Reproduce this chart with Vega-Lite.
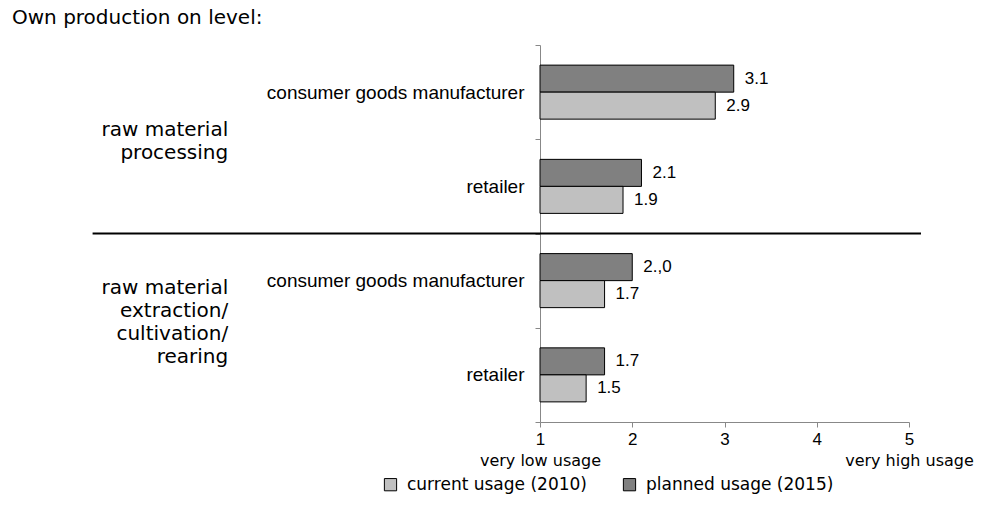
{
  "$schema": "https://vega.github.io/schema/vega-lite/v6.json",
  "width": 369,
  "height": 377,
  "autosize": "none",
  "padding": {"left": 540, "top": 45, "right": 86, "bottom": 93},
  "background": "white",
  "title": {
    "text": "Own production on level:",
    "anchor": "start",
    "frame": "group",
    "dx": -528,
    "offset": 8,
    "font": "DejaVu Sans",
    "fontSize": 20,
    "fontWeight": "normal",
    "color": "#000"
  },
  "config": {"view": {"stroke": null}},
  "datasets": {
    "bars": [
      {"key": "p_cgm", "series": "planned usage (2015)", "value": 3.1, "label": "3.1"},
      {"key": "p_cgm", "series": "current usage (2010)", "value": 2.9, "label": "2.9"},
      {"key": "p_ret", "series": "planned usage (2015)", "value": 2.1, "label": "2.1"},
      {"key": "p_ret", "series": "current usage (2010)", "value": 1.9, "label": "1.9"},
      {"key": "e_cgm", "series": "planned usage (2015)", "value": 2.0, "label": "2.,0"},
      {"key": "e_cgm", "series": "current usage (2010)", "value": 1.7, "label": "1.7"},
      {"key": "e_ret", "series": "planned usage (2015)", "value": 1.7, "label": "1.7"},
      {"key": "e_ret", "series": "current usage (2010)", "value": 1.5, "label": "1.5"}
    ],
    "group1": [
      {"key": "p_cgm", "pos": -2.38, "lines": ["raw material", "processing"]}
    ],
    "group2": [
      {"key": "e_cgm", "pos": -2.38, "lines": ["raw material", "extraction/", "cultivation/", "rearing"]}
    ],
    "sep": [
      {"key": "e_cgm", "from": -3.85, "to": 5.13}
    ]
  },
  "resolve": {"axis": {"x": "independent"}},
  "layer": [
    {
      "data": {"name": "bars"},
      "encoding": {
        "y": {
          "field": "key",
          "type": "nominal",
          "scale": {"domain": ["p_cgm", "p_ret", "e_cgm", "e_ret"], "paddingInner": 0, "paddingOuter": 0},
          "axis": {
            "orient": "left",
            "title": null,
            "labelExpr": "datum.value == 'p_cgm' || datum.value == 'e_cgm' ? 'consumer goods manufacturer' : (datum.value == 'p_ret' || datum.value == 'e_ret' ? 'retailer' : '')",
            "labelFont": "Liberation Sans",
            "labelFontSize": 19,
            "labelColor": "#000",
            "labelLimit": 400,
            "labelPadding": 11,
            "tickBand": "extent",
            "tickSize": 5,
            "tickColor": "#888",
            "domainColor": "#888",
            "grid": false
          }
        },
        "x": {
          "field": "value",
          "type": "quantitative",
          "scale": {"domain": [1, 5], "nice": false, "zero": false},
          "axis": {
            "orient": "bottom",
            "title": null,
            "values": [1, 2, 3, 4, 5],
            "format": "d",
            "labelFont": "Liberation Sans",
            "labelFontSize": 17,
            "labelColor": "#000",
            "labelPadding": 4,
            "labelFlush": false,
            "tickSize": 5,
            "tickColor": "#888",
            "domainColor": "#888",
            "grid": false
          }
        },
        "yOffset": {
          "field": "series",
          "type": "nominal",
          "scale": {"domain": ["planned usage (2015)", "current usage (2010)"], "paddingInner": 0, "paddingOuter": 0.745}
        }
      },
      "layer": [
        {
          "mark": {"type": "bar", "stroke": "#000", "strokeWidth": 1},
          "encoding": {
            "x2": {"datum": 1},
            "color": {
              "field": "series",
              "type": "nominal",
              "scale": {"domain": ["current usage (2010)", "planned usage (2015)"], "range": ["#c0c0c0", "#808080"]},
              "legend": {
                "title": null,
                "orient": "none",
                "direction": "horizontal",
                "legendX": -158,
                "legendY": 431,
                "symbolType": "square",
                "symbolSize": 150,
                "symbolStrokeColor": "#000",
                "symbolStrokeWidth": 1,
                "symbolOpacity": 1,
                "labelFont": "DejaVu Sans",
                "labelFontSize": 17,
                "labelColor": "#000",
                "labelOffset": 8,
                "columnPadding": 34,
                "labelLimit": 400
              }
            }
          }
        },
        {
          "mark": {"type": "text", "align": "left", "baseline": "middle", "dx": 11, "font": "Liberation Sans", "fontSize": 17, "color": "#000"},
          "encoding": {
            "text": {"field": "label", "type": "nominal"}
          }
        }
      ]
    },
    {
      "data": {"name": "group1"},
      "mark": {"type": "text", "align": "right", "baseline": "middle", "font": "DejaVu Sans", "fontSize": 20, "lineHeight": 23, "color": "#000"},
      "encoding": {
        "y": {"field": "key", "type": "nominal", "bandPosition": 0.9, "scale": {"domain": ["p_cgm", "p_ret", "e_cgm", "e_ret"]}},
        "x": {
          "field": "pos",
          "type": "quantitative",
          "scale": {"domain": [1, 5], "nice": false, "zero": false},
          "axis": {
            "orient": "bottom",
            "title": null,
            "values": [1, 5],
            "labelExpr": "datum.value == 1 ? 'very low usage' : 'very high usage'",
            "labelFlush": false,
            "domain": false,
            "ticks": false,
            "tickSize": 0,
            "grid": false,
            "labelPadding": 30,
            "labelFont": "DejaVu Sans",
            "labelFontSize": 16,
            "labelColor": "#000"
          }
        },
        "text": {"field": "lines"}
      }
    },
    {
      "data": {"name": "group2"},
      "mark": {"type": "text", "align": "right", "baseline": "middle", "font": "DejaVu Sans", "fontSize": 20, "lineHeight": 23, "color": "#000"},
      "encoding": {
        "y": {"field": "key", "type": "nominal", "bandPosition": 0.58, "scale": {"domain": ["p_cgm", "p_ret", "e_cgm", "e_ret"]}},
        "x": {"field": "pos", "type": "quantitative", "scale": {"domain": [1, 5], "nice": false, "zero": false}, "axis": null},
        "text": {"field": "lines"}
      }
    },
    {
      "data": {"name": "sep"},
      "mark": {"type": "rule", "color": "#000", "strokeWidth": 2},
      "encoding": {
        "y": {"field": "key", "type": "nominal", "bandPosition": 0, "scale": {"domain": ["p_cgm", "p_ret", "e_cgm", "e_ret"]}},
        "x": {"field": "from", "type": "quantitative", "scale": {"domain": [1, 5], "nice": false, "zero": false}, "axis": null},
        "x2": {"field": "to"}
      }
    }
  ]
}
